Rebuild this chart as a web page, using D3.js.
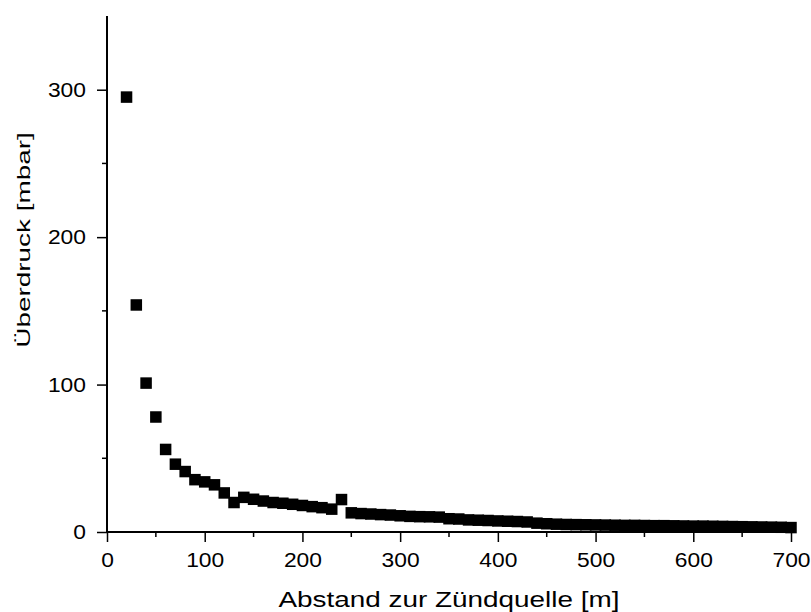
<!DOCTYPE html>
<html>
<head>
<meta charset="utf-8">
<script src="https://cdn.jsdelivr.net/npm/d3@7"></script>
<style>
  body { margin: 0; background: #fff; }
  svg { display: block; }
  text { font-family: "Liberation Sans", Arial, sans-serif; fill: #000; }
</style>
</head>
<body>
<svg id="chart" width="811" height="612"></svg>
<script>
// Abstand zur Zündquelle [m]
var distance = [
  20, 30, 40, 50, 60, 70, 80, 90, 100, 110,
  120, 130, 140, 150, 160, 170, 180, 190, 200, 210,
  220, 230, 240, 250, 260, 270, 280, 290, 300, 310,
  320, 330, 340, 350, 360, 370, 380, 390, 400, 410,
  420, 430, 440, 450, 460, 470, 480, 490, 500, 510,
  520, 530, 540, 550, 560, 570, 580, 590, 600, 610,
  620, 630, 640, 650, 660, 670, 680, 690, 700
];
// Überdruck [mbar]
var pressure = [
  295, 154, 101, 78, 56, 46, 41, 35.5, 34, 32,
  26.5, 20, 23.5, 22.2, 21, 20, 19.5, 18.8, 18, 17.2,
  16.5, 15.5, 22, 13, 12.5, 12.2, 11.8, 11.5, 11, 10.6,
  10.4, 10.3, 10.1, 9, 8.8, 8.2, 8, 7.8, 7.5, 7.3,
  7.1, 6.8, 6, 5.6, 5.3, 5.1, 5, 4.9, 4.8, 4.7,
  4.6, 4.5, 4.5, 4.4, 4.3, 4.3, 4.2, 4.1, 4, 4,
  3.9, 3.8, 3.7, 3.6, 3.5, 3.4, 3.3, 3.2, 3
];
var xTicks = [0, 100, 200, 300, 400, 500, 600, 700];
var xMinor = [50, 150, 250, 350, 450, 550, 650];
var yTicks = [0, 100, 200, 300];
var yMinor = [50, 150, 250];

var svg = d3.select('#chart'),
    margin = { top: 16, right: 20, bottom: 80, left: 107 },
    width = 791 - margin.left,
    height = 532 - margin.top,
    markerSize = 11.5,
    tickScale = 1.17;

var x = d3.scaleLinear().domain([0, 700]).range([0, width]);
var y = d3.scaleLinear().domain([0, 350]).range([height, 0]);

var g = svg.append('g')
    .attr('transform', 'translate(' + margin.left + ',' + margin.top + ')');

// data points
g.selectAll('rect.pt')
    .data(distance.map(function(d, i) { return [d, pressure[i]]; }))
    .enter().append('rect')
    .attr('class', 'pt')
    .attr('x', function(d) { return x(d[0]) - markerSize / 2; })
    .attr('y', function(d) { return y(d[1]) - markerSize / 2; })
    .attr('width', markerSize)
    .attr('height', markerSize)
    .attr('fill', '#000');

// x axis
var xAxis = g.append('g')
    .attr('transform', 'translate(0,' + height + ')')
    .call(d3.axisBottom(x).tickValues(xTicks).tickSize(10).tickPadding(4).tickFormat(d3.format('d')));
xAxis.append('g').selectAll('line')
    .data(xMinor)
    .enter().append('line')
    .attr('x1', function(d) { return x(d); })
    .attr('x2', function(d) { return x(d); })
    .attr('y1', 0).attr('y2', 5)
    .attr('stroke', '#000').attr('stroke-width', 1.5);

// y axis
var yAxis = g.append('g')
    .call(d3.axisLeft(y).tickValues(yTicks).tickSize(10).tickFormat(d3.format('d')));
yAxis.append('g').selectAll('line')
    .data(yMinor)
    .enter().append('line')
    .attr('y1', function(d) { return y(d); })
    .attr('y2', function(d) { return y(d); })
    .attr('x1', 0).attr('x2', -5)
    .attr('stroke', '#000').attr('stroke-width', 1.5);

svg.selectAll('.domain').attr('stroke', '#000').attr('stroke-width', 2)
    .attr('d', null);
xAxis.select('.domain').attr('d', 'M0,0H' + width);
yAxis.select('.domain').attr('d', 'M0,' + height + 'V0');

svg.selectAll('.tick line').attr('stroke', '#000').attr('stroke-width', 1.5);
svg.selectAll('.tick text')
    .style('font-family', '"Liberation Sans", Arial, sans-serif')
    .style('font-size', '19.5px')
    .attr('fill', '#000');

xAxis.selectAll('.tick text')
    .attr('y', null)
    .attr('dy', null)
    .attr('transform', 'translate(0,' + (567 - 532) + ') scale(' + tickScale + ',1)');

yAxis.selectAll('.tick text')
    .attr('x', null)
    .attr('dy', '0.35em')
    .attr('transform', 'translate(-21,0) scale(' + tickScale + ',1)');

// axis titles
svg.append('text')
    .attr('transform', 'translate(' + (margin.left + width / 2) + ',606.5) scale(1.24,1)')
    .attr('text-anchor', 'middle')
    .style('font-size', '22.5px')
    .text('Abstand zur Zündquelle [m]');

svg.append('text')
    .attr('transform', 'translate(29.5,240) rotate(-90) scale(1.55,1)')
    .attr('text-anchor', 'middle')
    .style('font-size', '18px')
    .text('Überdruck [mbar]');
</script>
</body>
</html>
